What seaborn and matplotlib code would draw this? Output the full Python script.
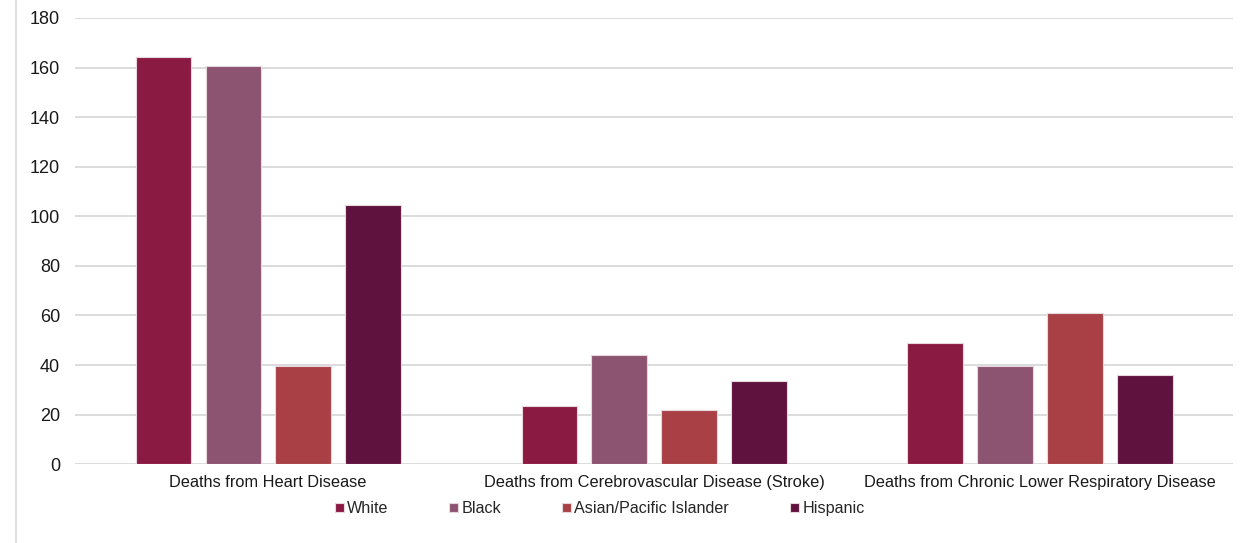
# Age-adjusted death rates by race/ethnicity
# Grouped bar chart

import numpy as np
import pandas as pd
import matplotlib
matplotlib.use('Agg')
import matplotlib.pyplot as plt
from matplotlib.lines import Line2D
import seaborn as sns

causes = ['Deaths from Heart Disease',
          'Deaths from Cerebrovascular Disease (Stroke)',
          'Deaths from Chronic Lower Respiratory Disease']
groups = ['White', 'Black', 'Asian/Pacific Islander', 'Hispanic']
white = [164.2, 23.4, 48.8]
black = [160.6, 44.0, 39.5]
asian = [39.5, 21.8, 61.0]
hispanic = [104.5, 33.5, 35.9]
colors = ['#8B1A42', '#8C5471', '#A84046', '#5F123D']

df = pd.DataFrame({
    'cause': causes * 4,
    'group': np.repeat(groups, 3),
    'rate': white + black + asian + hispanic,
})

sns.set_style('white')
plt.rcParams['font.family'] = ['Liberation Sans', 'DejaVu Sans']

fig = plt.figure(figsize=(12.53, 5.43), dpi=100)
ax = fig.add_axes([0.06, 0.145, 0.924, 0.822])

sns.barplot(data=df, x='cause', y='rate', hue='group', order=causes,
            hue_order=groups, palette=colors, saturation=1,
            width=0.725, gap=0.21, edgecolor='#e8d8de', linewidth=0.8,
            ax=ax, zorder=3)

ax.set_ylim(0, 180)
ax.set_yticks(range(0, 181, 20))
ax.set_xlim(-0.5, 2.5)
ax.yaxis.grid(True, color='#d9d9d9', linewidth=1.3, zorder=0)
ax.set_axisbelow(True)
for s in ax.spines.values():
    s.set_visible(False)
ax.set_xlabel('')
ax.set_ylabel('')
ax.tick_params(axis='y', labelsize=13, colors='#1a1a1a', pad=11, length=0)
ax.tick_params(axis='x', labelsize=11.8, colors='#1a1a1a', pad=8, length=0)

ax.legend(loc='upper center', bbox_to_anchor=(0.453, -0.05), ncol=4,
          frameon=False, fontsize=11.6, handlelength=0.55, handleheight=0.55,
          handletextpad=0.2, columnspacing=3.8)

# thin frame line at the left edge of the picture
fig.add_artist(Line2D([0.013, 0.013], [0, 1], color='#d9d9d9', linewidth=1.2))

plt.savefig('out.png', dpi=100)
plt.close()
